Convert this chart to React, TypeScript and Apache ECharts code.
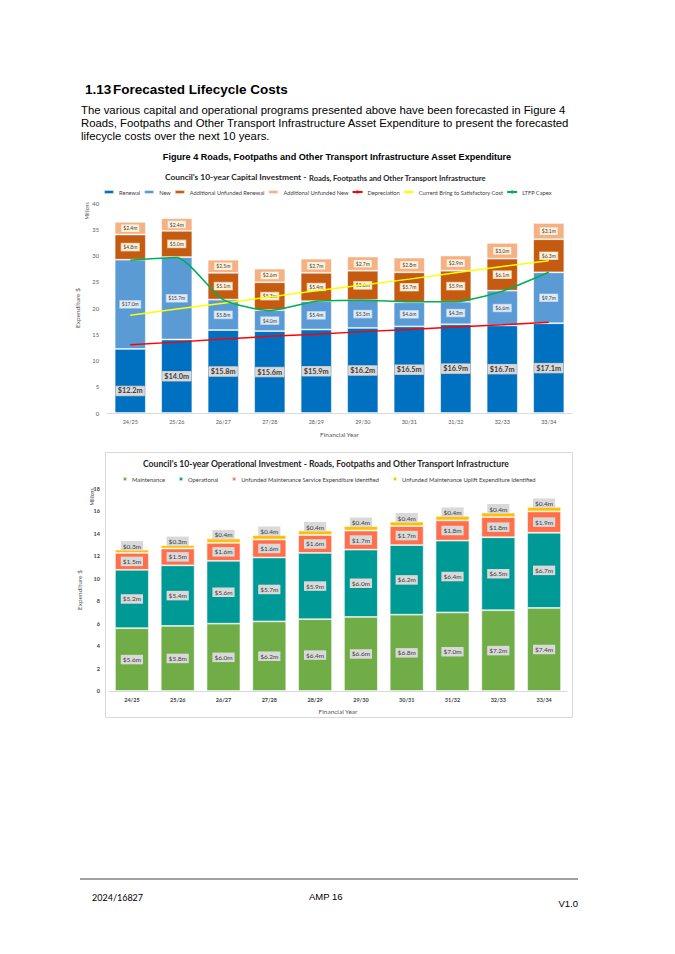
import React, { useEffect, useRef } from "react";
import * as echarts from "echarts";

const years = ["24/25", "25/26", "26/27", "27/28", "28/29", "29/30", "30/31", "31/32", "32/33", "33/34"];

// Capital investment (millions)
const renewal = [12.2, 14.0, 15.8, 15.6, 15.9, 16.2, 16.5, 16.9, 16.7, 17.1];
const newWorks = [17.0, 15.7, 5.8, 4.0, 5.4, 5.3, 4.6, 4.3, 6.6, 9.7];
const addUnfundedRenewal = [4.8, 5.0, 5.1, 5.3, 5.4, 5.6, 5.7, 5.9, 6.1, 6.3];
const addUnfundedNew = [2.4, 2.4, 2.5, 2.6, 2.7, 2.7, 2.8, 2.9, 3.0, 3.1];
const depreciation = [13.0, 13.5, 14.1, 14.6, 15.0, 15.5, 15.9, 16.4, 16.8, 17.3];
const bringToSatisfactory = [18.6, 19.8, 20.9, 22.1, 23.3, 24.4, 25.5, 26.7, 27.9, 29.0];
const ltfpCapex = [29.1, 29.6, 21.6, 19.5, 21.3, 21.5, 21.2, 21.2, 23.2, 26.8];

// Operational investment (millions)
const maintenance = [5.6, 5.8, 6.0, 6.2, 6.4, 6.6, 6.8, 7.0, 7.2, 7.4];
const operational = [5.2, 5.4, 5.6, 5.7, 5.9, 6.0, 6.2, 6.4, 6.5, 6.7];
const unfundedService = [1.5, 1.5, 1.6, 1.6, 1.6, 1.7, 1.7, 1.8, 1.8, 1.9];
const unfundedUplift = [0.3, 0.3, 0.4, 0.4, 0.4, 0.4, 0.4, 0.4, 0.4, 0.4];

const capLegend = ["Renewal", "New", "Additional Unfunded Renewal", "Additional Unfunded New", "Depreciation", "Current Bring to Satisfactory Cost", "LTFP Capex"];
const opLegend = ["Maintenance", "Operational", "Unfunded Maintenance Service Expenditure Identified", "Unfunded Maintenance Uplift Expenditure Identified"];

const XL = "Lato, 'Open Sans', sans-serif";
const DOC = "'Liberation Sans', Arial, sans-serif";

const fmt = (p: any) => "$" + Number(p.value).toFixed(1) + "m";

const smallLabel = (bg: string, border: string) => ({
  show: true,
  position: "inside",
  formatter: fmt,
  fontFamily: XL,
  fontSize: 5,
  color: "#404040",
  backgroundColor: bg,
  borderColor: border,
  borderWidth: 0.6,
  padding: [1.5, 2, 1, 2],
});

const opLabel = {
  show: true,
  position: "inside",
  formatter: fmt,
  fontFamily: XL,
  fontSize: 6.5,
  color: "#404040",
  backgroundColor: "#D9D9D9",
  padding: [1.5, 2, 1, 2],
};

const barEdge = { borderColor: "rgba(255,255,255,0.7)", borderWidth: 0.8 };

export default function App() {
  const ref = useRef<HTMLDivElement>(null);
  useEffect(() => {
    const chart = echarts.init(ref.current!, null, { renderer: "svg" });
    const para = [
      "The various capital and operational programs presented above have been forecasted in Figure 4",
      "Roads, Footpaths and Other Transport Infrastructure Asset Expenditure to present the forecasted",
      "lifecycle costs over the next 10 years.",
    ];
    chart.setOption({
      animation: false,
      backgroundColor: "#ffffff",
      textStyle: { fontFamily: XL },
      title: [
        {
          text: "Council's 10-year Operational Investment - Roads, Footpaths and Other Transport Infrastructure",
          left: 143,
          top: 459,
          padding: 0,
          textStyle: { fontFamily: XL, fontSize: 8.6, fontWeight: "bold", color: "#262626" },
        },
      ],
      legend: [
        {
          data: capLegend,
          left: 103,
          top: 189,
          padding: 0,
          itemWidth: 10,
          itemHeight: 4,
          itemGap: 3,
          textStyle: { fontFamily: XL, fontSize: 5.7, color: "#404040" },
        },
        {
          data: opLegend,
          left: 122,
          top: 476,
          padding: 0,
          itemWidth: 4,
          itemHeight: 4,
          itemGap: 13,
          icon: "rect",
          textStyle: { fontFamily: XL, fontSize: 5.8, color: "#404040" },
        },
      ],
      grid: [
        { left: 107, right: 103, top: 203, bottom: 541 },
        { left: 109, right: 108, top: 489, bottom: 263 },
      ],
      xAxis: [
        {
          type: "category",
          gridIndex: 0,
          data: years,
          axisLine: { lineStyle: { color: "#d9d9d9" } },
          axisTick: { show: false },
          axisLabel: { fontFamily: XL, fontSize: 5.5, color: "#595959", margin: 6 },
          name: "Financial Year",
          nameLocation: "middle",
          nameGap: 18,
          nameTextStyle: { fontFamily: XL, fontSize: 6.5, color: "#595959" },
        },
        {
          type: "category",
          gridIndex: 1,
          data: years,
          axisLine: { lineStyle: { color: "#d9d9d9" } },
          axisTick: { show: false },
          axisLabel: { fontFamily: XL, fontSize: 5.5, color: "#404040", fontWeight: "bold", margin: 6 },
          name: "Financial Year",
          nameLocation: "middle",
          nameGap: 17,
          nameTextStyle: { fontFamily: XL, fontSize: 6.5, color: "#595959" },
        },
      ],
      yAxis: [
        {
          type: "value",
          gridIndex: 0,
          min: 0,
          max: 40,
          interval: 5,
          splitLine: { show: false },
          axisLine: { show: false },
          axisTick: { show: false },
          axisLabel: { fontFamily: XL, fontSize: 5.8, color: "#595959", margin: 8 },
          name: "Expenditure $",
          nameLocation: "middle",
          nameGap: 19,
          nameRotate: 90,
          nameTextStyle: { fontFamily: XL, fontSize: 6.5, color: "#595959" },
        },
        {
          type: "value",
          gridIndex: 1,
          min: 0,
          max: 18,
          interval: 2,
          splitLine: { show: false },
          axisLine: { show: false },
          axisTick: { show: false },
          axisLabel: { fontFamily: XL, fontSize: 5.5, color: "#404040", fontWeight: "bold", margin: 9 },
          name: "Expenditure $",
          nameLocation: "middle",
          nameGap: 17,
          nameRotate: 90,
          nameTextStyle: { fontFamily: XL, fontSize: 6.5, color: "#595959" },
        },
      ],
      series: [
        {
          name: "Renewal",
          type: "bar",
          stack: "cap",
          xAxisIndex: 0,
          yAxisIndex: 0,
          barCategoryGap: "33%",
          itemStyle: { color: "#0070C0", ...barEdge },
          label: {
            show: true,
            position: "inside",
            formatter: fmt,
            fontFamily: XL,
            fontSize: 7.3,
            fontWeight: "bold",
            color: "#404040",
            backgroundColor: "#D9D9D9",
            borderColor: "#BFBFBF",
            borderWidth: 0.5,
            padding: [1.5, 2, 1, 2],
          },
          data: renewal.map((v, i) => (i === 0 ? { value: v, label: { offset: [0, 10] } } : v)),
        },
        {
          name: "New",
          type: "bar",
          stack: "cap",
          xAxisIndex: 0,
          yAxisIndex: 0,
          itemStyle: { color: "#5B9BD5", ...barEdge },
          label: smallLabel("#DEEBF7", "#9DC3E6"),
          data: newWorks,
        },
        {
          name: "Additional Unfunded Renewal",
          type: "bar",
          stack: "cap",
          xAxisIndex: 0,
          yAxisIndex: 0,
          itemStyle: { color: "#C55A11", ...barEdge },
          label: smallLabel("#FFF2DC", "#F4B183"),
          data: addUnfundedRenewal,
        },
        {
          name: "Additional Unfunded New",
          type: "bar",
          stack: "cap",
          xAxisIndex: 0,
          yAxisIndex: 0,
          itemStyle: { color: "#F4B183", ...barEdge },
          label: smallLabel("#FFF2DC", "#F4B183"),
          data: addUnfundedNew,
        },
        {
          name: "Depreciation",
          type: "line",
          xAxisIndex: 0,
          yAxisIndex: 0,
          symbol: "none",
          z: 5,
          lineStyle: { color: "#FF0000", width: 1.5 },
          itemStyle: { color: "#FF0000" },
          data: depreciation,
        },
        {
          name: "Current Bring to Satisfactory Cost",
          type: "line",
          xAxisIndex: 0,
          yAxisIndex: 0,
          symbol: "none",
          z: 5,
          lineStyle: { color: "#FFFF00", width: 1.5 },
          itemStyle: { color: "#FFFF00" },
          data: bringToSatisfactory,
        },
        {
          name: "LTFP Capex",
          type: "line",
          xAxisIndex: 0,
          yAxisIndex: 0,
          symbol: "none",
          smooth: 0.2,
          z: 5,
          lineStyle: { color: "#00B050", width: 1.5 },
          itemStyle: { color: "#00B050" },
          data: ltfpCapex,
        },
        {
          name: "Maintenance",
          type: "bar",
          stack: "op",
          xAxisIndex: 1,
          yAxisIndex: 1,
          barCategoryGap: "26%",
          itemStyle: { color: "#70AD47", ...barEdge },
          label: opLabel,
          data: maintenance,
        },
        {
          name: "Operational",
          type: "bar",
          stack: "op",
          xAxisIndex: 1,
          yAxisIndex: 1,
          itemStyle: { color: "#009A96", ...barEdge },
          label: opLabel,
          data: operational,
        },
        {
          name: "Unfunded Maintenance Service Expenditure Identified",
          type: "bar",
          stack: "op",
          xAxisIndex: 1,
          yAxisIndex: 1,
          itemStyle: { color: "#FF6F4B", ...barEdge },
          label: opLabel,
          data: unfundedService,
        },
        {
          name: "Unfunded Maintenance Uplift Expenditure Identified",
          type: "bar",
          stack: "op",
          xAxisIndex: 1,
          yAxisIndex: 1,
          itemStyle: { color: "#FFC000", ...barEdge },
          label: { ...opLabel, position: "top", distance: -1 },
          data: unfundedUplift,
        },
      ],
      graphic: [
        { type: "text", x: 85, y: 89, style: { text: "1.13", fontFamily: DOC, fontSize: 13.5, fontWeight: "bold", fill: "#000", verticalAlign: "middle" } },
        { type: "text", x: 113, y: 89, style: { text: "Forecasted Lifecycle Costs", fontFamily: DOC, fontSize: 13.5, fontWeight: "bold", fill: "#000", verticalAlign: "middle" } },
        ...para.map((t, i) => ({
          type: "text",
          x: 81,
          y: 110 + i * 13,
          style: { text: t, fontFamily: DOC, fontSize: 11.35, fill: "#000", verticalAlign: "middle" },
        })),
        {
          type: "text",
          x: 337,
          y: 157,
          style: { text: "Figure 4 Roads, Footpaths and Other Transport Infrastructure Asset Expenditure", fontFamily: DOC, fontSize: 9.1, fontWeight: "bold", fill: "#000", align: "center", verticalAlign: "middle" },
        },
        {
          type: "text",
          x: 165,
          y: 177,
          style: { text: "Council's 10-year Capital Investment - ", fontFamily: XL, fontSize: 8.4, fontWeight: "bold", fill: "#262626", verticalAlign: "middle" },
        },
        {
          type: "text",
          x: 309,
          y: 177.5,
          style: { text: "Roads, Footpaths and Other Transport Infrastructure", fontFamily: XL, fontSize: 7.6, fontWeight: "bold", fill: "#262626", verticalAlign: "middle" },
        },
        { type: "text", x: 87, y: 211, rotation: Math.PI / 2, style: { text: "Millions", fontFamily: XL, fontSize: 5, fill: "#595959", align: "center", verticalAlign: "middle" } },
        { type: "text", x: 92, y: 497, rotation: Math.PI / 2, style: { text: "Millions", fontFamily: XL, fontSize: 5, fill: "#404040", align: "center", verticalAlign: "middle" } },
        { type: "rect", shape: { x: 105.5, y: 452.5, width: 467, height: 265 }, style: { fill: "none", stroke: "#D9D9D9", lineWidth: 1 }, z: -1 },
        { type: "line", shape: { x1: 80, y1: 879, x2: 578, y2: 879 }, style: { stroke: "#404040", lineWidth: 1 } },
        { type: "text", x: 92, y: 897, style: { text: "2024/16827", fontFamily: XL, fontSize: 9, fill: "#000", verticalAlign: "middle" } },
        { type: "text", x: 309, y: 896, style: { text: "AMP 16", fontFamily: DOC, fontSize: 9.5, fill: "#000", verticalAlign: "middle" } },
        { type: "text", x: 578, y: 903, style: { text: "V1.0", fontFamily: DOC, fontSize: 9.5, fill: "#000", align: "right", verticalAlign: "middle" } },
      ],
    });
    return () => chart.dispose();
  }, []);
  return <div ref={ref} style={{ position: "absolute", left: 0, top: 0, width: 675, height: 954, background: "#fff" }} />;
}
